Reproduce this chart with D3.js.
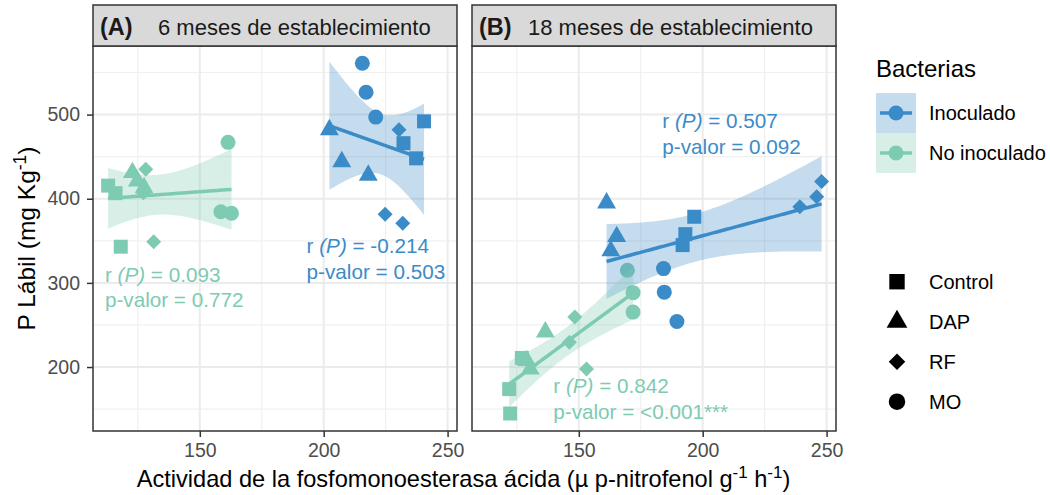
<!DOCTYPE html>
<html><head><meta charset="utf-8">
<script src="https://cdn.jsdelivr.net/npm/d3@7"></script>
<style>body{margin:0;background:#fff}svg{display:block;font-family:"Liberation Sans",Arial,sans-serif}</style>
</head><body><svg id="c" width="1050" height="495"></svg>
<script>
// ---------- data ----------
const panelTags = ["(A)", "(B)"];
const panelTitles = ["6 meses de establecimiento", "18 meses de establecimiento"];
const bacterias = ["Inoculado", "No inoculado"];
const fertilizantes = ["Control", "DAP", "RF", "MO"];
const tratamientos = ["Control","Control","Control","DAP","DAP","DAP","RF","RF","RF","MO","MO","MO"];
// Panel A (6 meses)
const A_inoc_x = [240.5, 232.2, 237.3, 202.3, 207.3, 218.0, 230.4, 224.8, 231.9, 215.6, 217.1, 221.0];
const A_inoc_y = [492, 466, 448, 482, 444, 428, 482, 381.5, 371, 561, 526.5, 497];
const A_noin_x = [113.0, 116.0, 118.1, 122.8, 124.8, 127.5, 128.2, 127.2, 131.4, 161.4, 158.5, 162.8];
const A_noin_y = [415.6, 406.6, 343, 431, 421, 413, 435, 407, 349, 467, 384.6, 382.7];
// Panel B (18 meses)
const B_inoc_x = [196.6, 193.0, 191.9, 161.2, 165.3, 162.9, 248.0, 246.0, 239.2, 184.2, 184.5, 189.6];
const B_inoc_y = [378.6, 357.9, 344.9, 395, 355, 338, 420.4, 402.5, 390.6, 317, 289, 254.2];
const B_noin_x = [122.3, 121.9, 127.0, 129.0, 130.4, 136.5, 148.4, 146.2, 153.1, 169.6, 171.9, 171.9];
const B_noin_y = [144.8, 173.8, 210.8, 207.6, 197.7, 241.6, 259.4, 229.5, 197.7, 315, 288.4, 265.3];
const xTicks = [150, 200, 250];
const yTicks = [200, 300, 400, 500];
const xMinor = [125, 175, 225];
const yMinor = [150, 250, 350, 450, 550];
const corrTexts = [
  [["-0.214", "0.503"], ["0.093", "0.772"]],
  [["0.507", "0.092"], ["0.842", "<0.001***"]]
];
const xDomain = [106.9, 253.8];
const yDomain = [124, 581.5];

// ---------- styles ----------
const colors = {"Inoculado": "#3b8bc8", "No inoculado": "#7ecbb4"};
const panelX = [[93, 457], [472, 836]];
const titleOffset = [65, 56];
const pTop = 46, pBottom = 431, stripTop = 5;
const svg = d3.select("#c");
const y = d3.scaleLinear().domain(yDomain).range([pBottom, pTop]);

const panelData = [
  [[A_inoc_x, A_inoc_y], [A_noin_x, A_noin_y]],
  [[B_inoc_x, B_inoc_y], [B_noin_x, B_noin_y]]
];
// annotation anchor positions (data units)
const annPos = [
  [[193.1, 335.2], [111.7, 301.4]],
  [[183.7, 483.7], [139.7, 168.8]]
];

function shapePath(shape) {
  if (shape === "Control") return d3.symbol().type(d3.symbolSquare).size(196)();
  if (shape === "DAP") return d3.symbol().type(d3.symbolTriangle).size(155)();
  if (shape === "RF") return "M0,-7.5L7.5,0L0,7.5L-7.5,0Z";
  return d3.symbol().type(d3.symbolCircle).size(177)();
}

function fit(xs, ys) {
  const n = xs.length, mx = d3.mean(xs), my = d3.mean(ys);
  let sxx = 0, sxy = 0;
  xs.forEach((v, i) => { sxx += (v - mx) ** 2; sxy += (v - mx) * (ys[i] - my); });
  const b = sxy / sxx, a = my - b * mx;
  let sse = 0; xs.forEach((v, i) => { sse += (ys[i] - a - b * v) ** 2; });
  const s = Math.sqrt(sse / (n - 2)), t = 2.228;
  const [x0, x1] = d3.extent(xs);
  return d3.range(0, 81).map(k => {
    const xv = x0 + (x1 - x0) * k / 80;
    const se = s * Math.sqrt(1 / n + (xv - mx) ** 2 / sxx);
    const yv = a + b * xv;
    return {x: xv, y: yv, lo: yv - t * se, hi: yv + t * se};
  });
}

panelData.forEach((groups, p) => {
  const [x0, x1] = panelX[p];
  const x = d3.scaleLinear().domain(xDomain).range([x0, x1]);
  const g = svg.append("g");
  g.append("rect").attr("x", x0).attr("y", pTop).attr("width", x1 - x0).attr("height", pBottom - pTop).attr("fill", "#fff");
  g.append("defs").append("clipPath").attr("id", "clip" + p)
    .append("rect").attr("x", x0).attr("y", pTop).attr("width", x1 - x0).attr("height", pBottom - pTop);
  // grid
  xMinor.forEach(v => g.append("line").attr("x1", x(v)).attr("x2", x(v)).attr("y1", pTop).attr("y2", pBottom).attr("stroke", "#f0f0f0").attr("stroke-width", 1.2));
  yMinor.forEach(v => g.append("line").attr("y1", y(v)).attr("y2", y(v)).attr("x1", x0).attr("x2", x1).attr("stroke", "#f0f0f0").attr("stroke-width", 1.2));
  xTicks.forEach(v => g.append("line").attr("x1", x(v)).attr("x2", x(v)).attr("y1", pTop).attr("y2", pBottom).attr("stroke", "#ebebeb").attr("stroke-width", 2));
  yTicks.forEach(v => g.append("line").attr("y1", y(v)).attr("y2", y(v)).attr("x1", x0).attr("x2", x1).attr("stroke", "#ebebeb").attr("stroke-width", 2));
  const plot = g.append("g").attr("clip-path", "url(#clip" + p + ")");
  // points
  groups.forEach((d, gi) => {
    const col = colors[bacterias[gi]];
    d[0].forEach((xv, i) => {
      plot.append("path").attr("d", shapePath(tratamientos[i]))
        .attr("transform", `translate(${x(xv)},${y(d[1][i])})`).attr("fill", col);
    });
  });
  // smooths
  groups.forEach((d, gi) => {
    const col = colors[bacterias[gi]];
    const f = fit(d[0], d[1]);
    plot.append("path").datum(f)
      .attr("d", d3.area().x(e => x(e.x)).y0(e => y(e.lo)).y1(e => y(e.hi)))
      .attr("fill", col).attr("fill-opacity", 0.3);
    plot.append("path").datum(f)
      .attr("d", d3.line().x(e => x(e.x)).y(e => y(e.y)))
      .attr("fill", "none").attr("stroke", col).attr("stroke-width", 3.5);
  });
  // annotations
  groups.forEach((d, gi) => {
    const col = colors[bacterias[gi]];
    const [ax, ay] = annPos[p][gi];
    const t1 = g.append("text").attr("x", x(ax)).attr("y", y(ay)).attr("fill", col).attr("font-size", 20.7);
    t1.append("tspan").text("r ");
    t1.append("tspan").attr("font-style", "italic").text("(P)");
    t1.append("tspan").text(" = " + corrTexts[p][gi][0]);
    g.append("text").attr("x", x(ax)).attr("y", y(ay) + 25.5).attr("fill", col).attr("font-size", 20.7)
      .text("p-valor = " + corrTexts[p][gi][1]);
  });
  // border
  g.append("rect").attr("x", x0).attr("y", pTop).attr("width", x1 - x0).attr("height", pBottom - pTop)
    .attr("fill", "none").attr("stroke", "#333").attr("stroke-width", 1.5);
  // strip
  g.append("rect").attr("x", x0).attr("y", stripTop).attr("width", x1 - x0).attr("height", pTop - stripTop)
    .attr("fill", "#d9d9d9").attr("stroke", "#333").attr("stroke-width", 1.5);
  g.append("text").attr("x", x0 + 7).attr("y", 35).attr("font-size", 23.5).attr("font-weight", "bold").attr("fill", "#1a1a1a").text(panelTags[p]);
  g.append("text").attr("x", x0 + titleOffset[p]).attr("y", 35).attr("font-size", 22).attr("fill", "#1a1a1a").text(panelTitles[p]);
  // x axis
  const xa = g.append("g").attr("transform", `translate(0,${pBottom})`)
    .call(d3.axisBottom(x).tickValues(xTicks).tickSize(6).tickPadding(6).tickFormat(d3.format("d")));
  xa.select(".domain").remove();
  xa.selectAll("line").attr("stroke", "#333").attr("stroke-width", 1.5);
  xa.selectAll("text").attr("font-size", 19.5).attr("fill", "#4d4d4d").attr("font-family", "Liberation Sans, Arial, sans-serif");
  if (p === 0) {
    const ya = g.append("g").attr("transform", `translate(${x0},0)`)
      .call(d3.axisLeft(y).tickValues(yTicks).tickSize(6).tickPadding(7).tickFormat(d3.format("d")));
    ya.select(".domain").remove();
    ya.selectAll("line").attr("stroke", "#333").attr("stroke-width", 1.5);
    ya.selectAll("text").attr("font-size", 19.5).attr("fill", "#4d4d4d").attr("font-family", "Liberation Sans, Arial, sans-serif");
  }
});

// axis titles
const xt = svg.append("text").attr("x", 463.5).attr("y", 486.7).attr("text-anchor", "middle").attr("font-size", 23.6);
xt.append("tspan").text("Actividad de la fosfomonoesterasa ácida (µ p-nitrofenol g");
xt.append("tspan").attr("font-size", 17).attr("dy", -9).text("-1");
xt.append("tspan").attr("dy", 9).text(" h");
xt.append("tspan").attr("font-size", 17).attr("dy", -9).text("-1");
xt.append("tspan").attr("dy", 9).text(")");
const yt = svg.append("text").attr("transform", `translate(35,${(pTop + pBottom) / 2}) rotate(-90)`).attr("text-anchor", "middle").attr("font-size", 24.5);
yt.append("tspan").text("P Lábil (mg Kg");
yt.append("tspan").attr("font-size", 17.5).attr("dy", -9).text("-1");
yt.append("tspan").attr("dy", 9).text(")");

// legend
svg.append("text").attr("x", 876).attr("y", 77).attr("font-size", 24).text("Bacterias");
bacterias.forEach((b, i) => {
  const yy = 93 + i * 40;
  const col = colors[b];
  svg.append("rect").attr("x", 876).attr("y", yy).attr("width", 40).attr("height", 40).attr("fill", col).attr("fill-opacity", 0.3);
  svg.append("line").attr("x1", 880).attr("x2", 912).attr("y1", yy + 20).attr("y2", yy + 20).attr("stroke", col).attr("stroke-width", 3.5);
  svg.append("circle").attr("cx", 896).attr("cy", yy + 20).attr("r", 7.5).attr("fill", col);
  svg.append("text").attr("x", 929).attr("y", yy + 20).attr("dy", "0.36em").attr("font-size", 20).text(b);
});
fertilizantes.forEach((f, i) => {
  const yy = 281.7 + i * 40;
  svg.append("path").attr("d", shapePath(f)).attr("transform", `translate(897,${yy}) scale(1.1)`).attr("fill", "#000");
  svg.append("text").attr("x", 929).attr("y", yy).attr("dy", "0.36em").attr("font-size", 20).text(f);
});
</script></body></html>
